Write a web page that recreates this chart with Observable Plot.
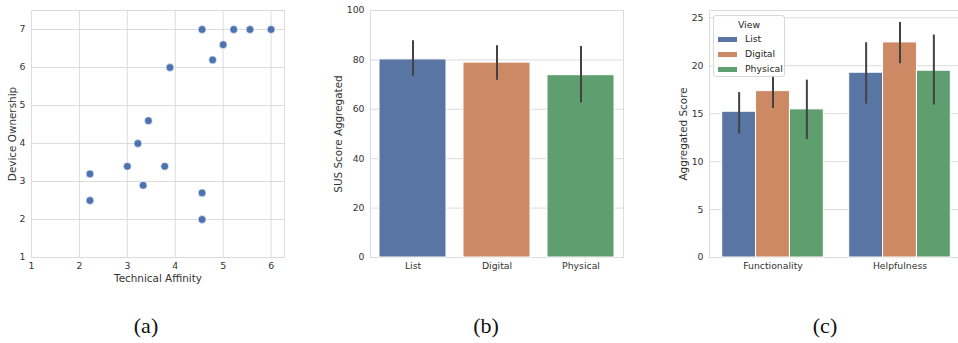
<!DOCTYPE html>
<html><head><meta charset="utf-8">
<script src="https://cdn.jsdelivr.net/npm/d3@7"></script>
<script src="https://cdn.jsdelivr.net/npm/@observablehq/plot@0.6"></script>
<style>
html,body{margin:0;padding:0;background:#fff;}
#root{position:relative;width:958px;height:343px;overflow:hidden;font-family:"DejaVu Sans",sans-serif;}
.panel{position:absolute;top:0;}
.panel g[aria-label="x-axis label"] text, .panel g[aria-label="y-axis label"] text{font-size:10.4px;}
.cap{position:absolute;top:313px;font-family:"Liberation Serif",serif;font-size:22px;color:#111;transform:translateX(-50%);white-space:nowrap;}
.legend{position:absolute;left:713px;top:15px;width:72px;height:62px;box-sizing:border-box;background:rgba(255,255,255,0.85);border:1px solid #d8d8d8;border-radius:3px;font-size:9.3px;color:#262626;}
.legend .title{position:absolute;left:0;right:0;top:3px;text-align:center;}
.legend .row{position:absolute;left:4px;height:12px;}
.legend .sw{position:absolute;left:0;top:4px;width:18.5px;height:5px;}
.legend .lb{position:absolute;left:27px;top:0;line-height:12px;}
</style></head><body><div id="root"></div>
<script>
// ---- data (a): scatter ----
const techAffinity = [4.56, 5.22, 5.56, 6.0, 5.0, 4.78, 3.89, 3.44, 3.22, 3.0, 3.78, 3.33, 2.22, 2.22, 4.56, 4.56];
const deviceOwnership = [7.0, 7.0, 7.0, 7.0, 6.6, 6.2, 6.0, 4.6, 4.0, 3.4, 3.4, 2.9, 3.2, 2.5, 2.7, 2.0];
const affinityTicks = [1, 2, 3, 4, 5, 6];
const ownershipTicks = [1, 2, 3, 4, 5, 6, 7];

// ---- data (b): SUS ----
const views = ["List", "Digital", "Physical"];
const susMean = [80.2, 78.9, 73.8];
const susLow = [73.4, 71.8, 62.6];
const susHigh = [87.8, 85.7, 85.4];
const susTicks = [0, 20, 40, 60, 80, 100];

// ---- data (c): grouped ----
const criteria = ["Functionality", "Helpfulness"];
const functionalityMean = [15.2, 17.35, 15.45];
const functionalityLow = [12.9, 15.55, 12.3];
const functionalityHigh = [17.2, 19.0, 18.5];
const helpfulnessMean = [19.27, 22.43, 19.48];
const helpfulnessLow = [16.0, 20.2, 15.9];
const helpfulnessHigh = [22.4, 24.5, 23.2];
const scoreTicks = [0, 5, 10, 15, 20, 25];

const barColors = ["#5975a4", "#cc8963", "#5f9e6e"];
const dotColor = "#4c72b0";
const gridColor = "#dcdcdc";
const errColor = "#424242";

const root = document.getElementById("root");
const baseStyle = {fontFamily: "DejaVu Sans", fontSize: "9.3px", color: "#333", background: "transparent", overflow: "visible"};

function place(el, left) {
  el.classList.add("panel");
  el.style.left = left + "px";
  root.appendChild(el);
}

// ---------- (a) ----------
const scatterIdx = d3.range(techAffinity.length);
const pa = Plot.plot({
  width: 300, height: 290,
  marginLeft: 31, marginRight: 16, marginTop: 10, marginBottom: 33,
  style: baseStyle,
  x: {domain: [1, 6.28]},
  y: {domain: [1, 7.5]},
  marks: [
    Plot.gridX(affinityTicks, {stroke: gridColor, strokeOpacity: 1}),
    Plot.gridY(ownershipTicks, {stroke: gridColor, strokeOpacity: 1}),
    Plot.frame({stroke: gridColor}),
    Plot.axisX(affinityTicks, {tickSize: 0, tickPadding: 5, label: "Technical Affinity", labelAnchor: "center", labelArrow: "none", labelOffset: 24}),
    Plot.axisY(ownershipTicks, {tickSize: 0, tickPadding: 6, label: "Device Ownership", labelAnchor: "center", labelArrow: "none", labelOffset: 23}),
    Plot.dot(scatterIdx, {x: i => techAffinity[i], y: i => deviceOwnership[i], r: 3.9, fill: dotColor, stroke: "white", strokeWidth: 0.6})
  ]
});
place(pa, 0);

// ---------- (b) ----------
const susIdx = d3.range(views.length);
const pb = Plot.plot({
  width: 320, height: 290,
  marginLeft: 50, marginRight: 17, marginTop: 10, marginBottom: 33,
  style: baseStyle,
  x: {domain: views, paddingInner: 0.2, paddingOuter: 0.1},
  y: {domain: [0, 100]},
  color: {domain: views, range: barColors},
  marks: [
    Plot.gridY(susTicks, {stroke: gridColor, strokeOpacity: 1}),
    Plot.frame({stroke: gridColor}),
    Plot.barY(susIdx, {x: i => views[i], y: i => susMean[i], fill: i => views[i], stroke: "white", strokeWidth: 1}),
    Plot.ruleX(susIdx, {x: i => views[i], y1: i => susLow[i], y2: i => susHigh[i], stroke: errColor, strokeWidth: 2}),
    Plot.axisX({tickSize: 0, tickPadding: 5, label: null}),
    Plot.axisY(susTicks, {tickSize: 0, tickPadding: 6, label: "SUS Score Aggregated", labelAnchor: "center", labelArrow: "none", labelOffset: 36})
  ]
});
place(pb, 320);

// ---------- (c) ----------
const means = [functionalityMean, helpfulnessMean];
const lows = [functionalityLow, helpfulnessLow];
const highs = [functionalityHigh, helpfulnessHigh];
const groupWidth = 0.8;
const rows = [];
criteria.forEach((c, ci) => views.forEach((v, vi) => rows.push({ci, vi})));
const barW = groupWidth / views.length;
const x1 = r => r.ci - groupWidth / 2 + r.vi * barW;
const pc = Plot.plot({
  width: 320, height: 290,
  marginLeft: 49, marginRight: 17, marginTop: 10, marginBottom: 33,
  style: baseStyle,
  x: {domain: [-0.5, 1.5]},
  y: {domain: [0, 25.76]},
  color: {domain: views, range: barColors},
  marks: [
    Plot.gridY(scoreTicks, {stroke: gridColor, strokeOpacity: 1}),
    Plot.frame({stroke: gridColor}),
    Plot.rectY(rows, {x1: x1, x2: r => x1(r) + barW, y1: 0, y2: r => means[r.ci][r.vi], fill: r => views[r.vi], stroke: "white", strokeWidth: 1}),
    Plot.ruleX(rows, {x: r => x1(r) + barW / 2, y1: r => lows[r.ci][r.vi], y2: r => highs[r.ci][r.vi], stroke: errColor, strokeWidth: 2}),
    Plot.axisX(d3.range(criteria.length), {tickSize: 0, tickPadding: 5, tickFormat: i => criteria[i], label: null}),
    Plot.axisY(scoreTicks, {tickSize: 0, tickPadding: 6, label: "Aggregated Score", labelAnchor: "center", labelArrow: "none", labelOffset: 30})
  ]
});
place(pc, 660);

// legend
const lg = document.createElement("div");
lg.className = "legend";
let html = '<div class="title">View</div>';
views.forEach((v, i) => {
  html += `<div class="row" style="top:${17 + i * 15}px"><div class="sw" style="background:${barColors[i]}"></div><div class="lb">${v}</div></div>`;
});
lg.innerHTML = html;
root.appendChild(lg);

// captions
[["(a)", 146], ["(b)", 486], ["(c)", 825]].forEach(([t, x]) => {
  const d = document.createElement("div");
  d.className = "cap";
  d.style.left = x + "px";
  d.textContent = t;
  root.appendChild(d);
});
</script>
</body></html>
